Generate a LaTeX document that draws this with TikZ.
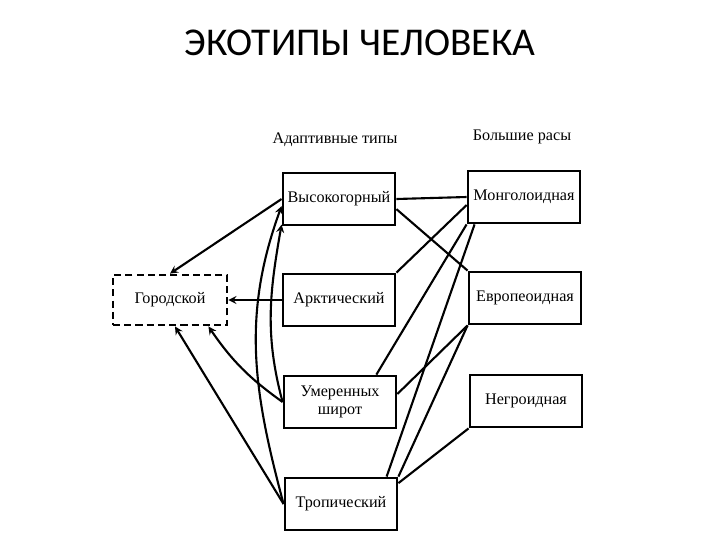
\documentclass[tikz,border=0pt]{standalone}
\usepackage{fontspec}
\setmainfont{Liberation Serif}
\newfontfamily\titlefont{Carlito}
\begin{document}
\begin{tikzpicture}[>=stealth, x=0.025cm, y=-0.025cm,
  box/.style={draw, rectangle, line width=2pt, minimum width=2.8cm, minimum height=1.3cm, align=center, font=\fontsize{11.5}{13}\selectfont},
  head/.style={font=\fontsize{11.5}{13}\selectfont},
  link/.style={line width=1.5pt}]
\useasboundingbox (0,0) rectangle (720,540);
\node (title) at (360,43) {\titlefont\fontsize{28}{32}\selectfont ЭКОТИПЫ ЧЕЛОВЕКА};
\node[head] (types) at (335,140) {Адаптивные типы};
\node[head] (races) at (522,137) {Большие расы};

\node[box] (V) at (339,199) {Высокогорный};
\node[box] (A) at (339,300) {Арктический};
\node[box] (U) at (340,402) {Умеренных\\широт};
\node[box] (T) at (341,504) {Тропический};
\node[box, dashed, dash pattern=on 5pt off 3pt, minimum width=2.85cm, minimum height=1.25cm] (G) at (170,300) {Городской};
\node[box] (M) at (524,197) {Монголоидная};
\node[box] (E) at (525,298) {Европеоидная};
\node[box] (N) at (526,401) {Негроидная};

\draw[link,->] (V.west) -- (G.north);
\draw[link,->] (A.west) -- (G.east);
\draw[link,->] (U.west) to[bend left=10] ([xshift=-0.5cm]G.south east);
\draw[link,->] (T.west) -- ([xshift=0.125cm]G.south);
\draw[link,->] (T.west) to[out=105,in=-110] (V.187);
\draw[link,->] (U.west) to[out=105,in=-100] (V.204);

\draw[link] (V.east) -- (M.west);
\draw[link] (V.-10) -- (E.north west);
\draw[link] (A.north east) -- (M.188);
\draw[link] (U.37) -- (M.south west);
\draw[link] (T.31) -- (M.-151);
\draw[link] (U.8) -- (E.south west);
\draw[link] (T.north east) -- (E.south west);
\draw[link] (T.20) -- (N.south west);
\end{tikzpicture}
\end{document}
